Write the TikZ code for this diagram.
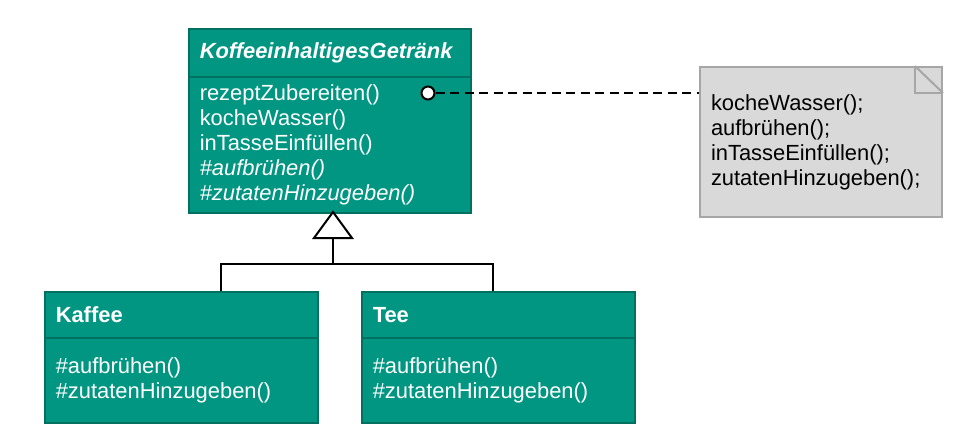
\documentclass[tikz,border=0pt]{standalone}
\usepackage{fontspec}
\setmainfont{Liberation Sans}
\definecolor{umlteal}{RGB}{0,150,130}
\definecolor{umltealdark}{RGB}{0,112,96}
\definecolor{notefill}{RGB}{217,217,217}
\definecolor{noteline}{RGB}{166,166,166}
\begin{document}
\begin{tikzpicture}[x=1pt,y=-1pt,
  umlfont/.style={font=\fontsize{21.9pt}{25pt}\selectfont},
  classpart/.style={draw=umltealdark, line width=1.5pt, fill=umlteal, text=white,
    umlfont, anchor=north west, inner xsep=11pt, inner ysep=0pt, align=left,
    text width=#1},
  notebox/.style={draw=noteline, line width=2pt, fill=notefill, text=black,
    umlfont, anchor=north west, inner xsep=11pt, inner ysep=0pt, align=left,
    text width=220pt, minimum height=150pt},
  genline/.style={draw=black, line width=2pt},
  noteconn/.style={draw=black, line width=2pt, dash pattern=on 9pt off 5.5pt},
]
\useasboundingbox (0,0) rectangle (964,442);

% abstract class
\node[classpart=260pt, minimum height=48pt] (abshead) at (188,28)
  {\textbf{\textit{KoffeeinhaltigesGetränk}}};
\node[classpart=260pt, minimum height=136pt] (absbody) at (188,76)
  {rezeptZubereiten()\\kocheWasser()\\inTasseEinfüllen()\\\textit{\#aufbrühen()}\\\textit{\#zutatenHinzugeben()}};

% subclasses
\node[classpart=251pt, minimum height=46pt] (kaffeehead) at (44,291) {\textbf{Kaffee}};
\node[classpart=251pt, minimum height=85pt] (kaffeebody) at (44,337)
  {\#aufbrühen()\\\#zutatenHinzugeben()};
\node[classpart=251pt, minimum height=46pt] (teehead) at (361,291) {\textbf{Tee}};
\node[classpart=251pt, minimum height=85pt] (teebody) at (361,337)
  {\#aufbrühen()\\\#zutatenHinzugeben()};

% note
\node[notebox] (note) at (699,66)
  {kocheWasser();\\aufbrühen();\\inTasseEinfüllen();\\zutatenHinzugeben();};
\draw[noteline, line width=2pt] ([xshift=-28pt]note.north east) -- ++(0,27) -- ++(28,0);
\draw[noteline, line width=2pt] ([xshift=-28pt]note.north east) -- ([yshift=-27pt]note.north east);

% note connector
\node[circle, draw=black, fill=white, line width=2pt, inner sep=0pt, minimum size=13pt] (dot) at (428,93) {};
\draw[noteconn] (dot.east) -- (dot -| note.west);

% generalization
\coordinate (apex) at (333,212);
\coordinate (basemid) at (333,238);
\coordinate (joint) at (333,264);
\coordinate (kj) at (221,264);
\coordinate (tj) at (493,264);
\draw[genline, fill=white, line join=miter] (apex) -- ++(-19,26) -- ++(38,0) -- cycle;
\draw[genline] (basemid) -- (joint);
\draw[genline] (kj |- kaffeehead.north) -- (kj) -- (tj) -- (tj |- teehead.north);
\end{tikzpicture}
\end{document}
